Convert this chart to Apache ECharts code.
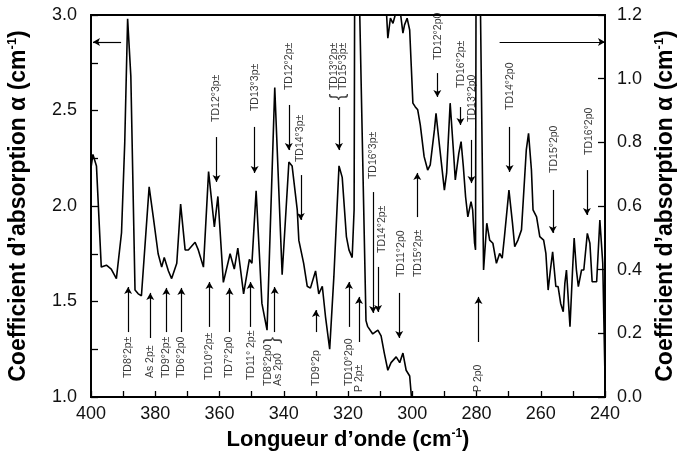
<!DOCTYPE html>
<html><head><meta charset="utf-8">
<script src="https://cdn.jsdelivr.net/npm/echarts@6/dist/echarts.min.js"></script>
<style>html,body{margin:0;padding:0;background:#fff}#c{width:680px;height:468px}</style>
</head><body><div id="c"></div>
<script>
// Left-axis spectrum (400 -> 300 cm-1), absorption on left scale
const leftW = [400.0,399.4,398.3,396.8,395.2,393.7,392.1,390.5,389.5,388.6,387.6,386.3,385.3,384.3,381.9,380.6,379.1,378.0,377.2,375.9,374.9,373.3,372.1,370.7,369.7,367.6,366.6,365.0,363.4,361.6,360.5,358.8,356.7,355.4,354.3,352.5,350.7,349.9,348.6,346.8,345.2,342.8,340.5,338.4,337.4,335.8,335.3,334.8,333.8,332.7,331.7,330.1,329.1,328.0,327.0,325.7,324.4,322.8,321.8,320.5,319.7,318.7,318.1,317.9,316.7,314.4,313.9,312.3,310.7,309.7,308.7,307.6,306.6,305.0,303.9,302.9,301.9,300.8,300.0];
const leftV = [2.20,2.27,2.21,1.68,1.69,1.67,1.62,1.86,2.33,2.98,2.68,1.56,1.54,1.53,2.10,1.94,1.75,1.68,1.73,1.66,1.62,1.70,2.01,1.77,1.77,1.81,1.77,1.68,2.18,1.89,2.05,1.60,1.75,1.67,1.78,1.54,1.72,1.70,2.08,1.49,1.35,2.62,1.64,2.23,2.21,1.98,1.82,1.83,1.70,1.58,1.57,1.66,1.54,1.58,1.42,1.25,1.63,2.21,2.15,1.84,1.77,1.73,1.98,3.3,3.3,1.40,1.37,1.33,1.35,1.32,1.23,1.14,1.18,1.21,1.18,1.23,1.14,1.11,0.95];
// Right-axis spectrum (308 -> 240 cm-1)
const rightW = [308.5,307.6,306.8,306.0,305.3,304.5,303.6,302.9,302.4,301.6,300.8,300.3,299.8,299.1,298.3,297.5,296.3,295.2,294.4,293.1,292.6,291.6,290.0,289.3,288.2,287.2,286.6,285.5,284.8,284.1,283.4,282.7,281.7,281.2,280.6,280.3,280.1,279.1,277.8,276.8,275.9,274.9,273.8,272.8,272.0,271.3,269.9,268.8,268.1,267.1,266.0,265.0,264.5,263.8,262.9,262.4,261.3,260.3,259.1,258.4,257.7,257.0,256.3,255.3,254.6,253.8,253.0,252.5,252.0,250.9,250.1,249.6,248.9,248.3,247.3,246.6,245.5,244.7,244.0,242.6,241.6,240.7,240.0];
const rightV = [1.30,1.127,1.19,1.174,1.20,1.205,1.20,1.143,1.169,1.19,1.153,1.038,0.923,0.912,0.902,0.855,0.755,0.713,0.729,0.839,0.891,0.797,0.650,0.703,0.923,0.776,0.682,0.766,0.802,0.724,0.629,0.566,0.614,0.588,0.483,0.462,1.5,1.5,0.399,0.546,0.493,0.483,0.420,0.451,0.436,0.504,0.650,0.546,0.472,0.493,0.525,0.692,0.776,0.828,0.713,0.588,0.566,0.504,0.493,0.451,0.336,0.399,0.456,0.347,0.347,0.294,0.268,0.357,0.399,0.221,0.399,0.499,0.399,0.347,0.399,0.399,0.514,0.483,0.362,0.362,0.556,0.420,0.06];

// Line assignment labels (text starts at the given point, reads upward), in left-axis units
const labelText = ['TD12°3p±','TD13°3p±','TD12°2p±','TD14°3p±','TD13°2p±','TD15°3p±','TD16°3p±','TD14°2p±','TD11°2p0','TD15°2p±','TD12°2p0','TD16°2p±','TD13°2p0','TD14°2p0','TD15°2p0','TD16°2p0',
  'TD8°2p±','As 2p±','TD9°2p±','TD6°2p0','TD10°2p±','TD7°2p0','TD11° 2p±','TD8°2p0','As 2p0','TD9°2p','TD10°2p0','P 2p±','P 2p0'];
const labelW = [360.94,349.06,338.44,335.0,324.38,321.56,312.19,309.38,303.44,298.13,291.88,284.69,281.25,269.69,255.94,245.0,
  388.44,381.56,376.56,371.88,363.13,356.88,350.31,345.0,341.88,330.0,319.69,316.56,279.38];
const labelV = [2.44,2.497,2.607,2.23,2.607,2.607,2.141,1.754,1.628,1.628,2.764,2.618,2.44,2.503,2.173,2.267,
  1.099,1.099,1.099,1.099,1.089,1.099,1.089,1.058,1.058,1.058,1.058,1.026,1.026];
// Grouping braces
const braceText = ['{','}'];
const braceW = [322.97,343.44];
const braceV = [2.571,1.298];

// Pointer arrows: x, tail value, head value (left-axis units)
const arrowW = [360.94,349.06,338.44,334.69,322.81,312.19,310.63,304.06,292.19,285.0,281.56,269.69,256.25,245.63,
  298.44,388.44,381.56,376.56,371.88,363.13,356.88,350.31,342.81,330.0,319.69,316.56,279.38];
const arrowFrom = [2.361,2.414,2.529,2.162,2.518,2.073,1.681,1.545,2.696,2.518,2.346,2.414,2.084,2.188,
  1.942,1.340,1.309,1.340,1.340,1.367,1.340,1.367,1.340,1.340,1.367,1.288,1.288];
const arrowTo = [2.126,2.173,2.293,1.927,2.293,1.440,1.445,1.309,2.571,2.424,2.120,2.178,1.859,1.953,
  2.173,1.576,1.545,1.571,1.571,1.602,1.571,1.602,1.576,1.455,1.602,1.524,1.524];
// Scale indicator arrows (which axis applies)
const scaleArrowFrom = [390.63, 272.81];
const scaleArrowTo = [399.38, 240.0];
const scaleArrowV = 2.859;

const FONT = 'Liberation Sans, Arial, sans-serif';
const chart = echarts.init(document.getElementById('c'), null, {renderer: 'canvas'});

const arrowLines = arrowW.map((w, i) => [{coord: [w, arrowFrom[i]]}, {coord: [w, arrowTo[i]]}]);
scaleArrowFrom.forEach((w, i) => arrowLines.push([{coord: [w, scaleArrowV]}, {coord: [scaleArrowTo[i], scaleArrowV]}]));

const xTitle = {
  a: {fontSize: 22, fontWeight: 'bold', fontFamily: FONT, color: '#000'},
  s: {fontSize: 12, fontWeight: 'bold', fontFamily: FONT, color: '#000', verticalAlign: 'top', padding: [0, 0, 12, 0]}
};
const yTitle = {
  a: {fontSize: 23, fontWeight: 'bold', fontFamily: FONT, color: '#000'},
  s: {fontSize: 13, fontWeight: 'bold', fontFamily: FONT, color: '#000', verticalAlign: 'top', padding: [0, 0, 12, 0]}
};

chart.setOption({
  animation: false,
  backgroundColor: '#fff',
  grid: {left: 91, right: 75, top: 15, bottom: 71, containLabel: false, outerBoundsMode: 'none',
    show: true, borderColor: '#000', borderWidth: 1.8, backgroundColor: 'transparent'},
  xAxis: {
    type: 'value', inverse: true, min: 240, max: 400, interval: 20,
    axisLine: {lineStyle: {color: '#000', width: 1.8}},
    axisTick: {inside: true, length: 6, lineStyle: {color: '#000', width: 1.3}},
    minorTick: {show: true, splitNumber: 2, length: 6, lineStyle: {color: '#000', width: 1.3}},
    splitLine: {show: false},
    axisLabel: {fontSize: 18, color: '#111', fontFamily: FONT, margin: 8},
    name: '{a|Longueur d\u2019onde (cm}{s|-1}{a|)}',
    nameLocation: 'middle', nameGap: 30,
    nameTextStyle: {rich: xTitle}
  },
  yAxis: [{
    type: 'value', min: 1, max: 3, interval: 0.5,
    axisLine: {lineStyle: {color: '#000', width: 1.8}},
    axisTick: {inside: true, length: 7, lineStyle: {color: '#000', width: 1.3}},
    minorTick: {show: true, splitNumber: 2, length: 7, lineStyle: {color: '#000', width: 1.3}},
    splitLine: {show: false},
    axisLabel: {fontSize: 18, color: '#111', fontFamily: FONT, margin: 14, formatter: v => v.toFixed(1)},
    name: '{a|Coefficient d\u2019absorption \u03b1 (cm}{s|-1}{a|)}',
    nameLocation: 'middle', nameGap: 60,
    nameTextStyle: {rich: yTitle}
  }, {
    type: 'value', min: 0, max: 1.2, interval: 0.2, position: 'right',
    axisLine: {show: true, lineStyle: {color: '#000', width: 1.8}},
    axisTick: {inside: true, length: 7, lineStyle: {color: '#000', width: 1.3}},
    splitLine: {show: false},
    axisLabel: {fontSize: 18, color: '#111', fontFamily: FONT, margin: 12, formatter: v => v.toFixed(1)},
    name: '{a|Coefficient d\u2019absorption \u03b1 (cm}{s|-1}{a|)}',
    nameLocation: 'middle', nameGap: 46,
    nameTextStyle: {rich: yTitle}
  }],
  series: [{
    type: 'line', yAxisIndex: 0, showSymbol: false, clip: true, silent: true,
    lineStyle: {color: '#000', width: 1.6}, itemStyle: {color: '#000'},
    data: leftW.map((w, i) => [w, leftV[i]])
  }, {
    type: 'line', yAxisIndex: 1, showSymbol: false, clip: true, silent: true,
    lineStyle: {color: '#000', width: 1.6}, itemStyle: {color: '#000'},
    data: rightW.map((w, i) => [w, rightV[i]])
  }, {
    type: 'scatter', yAxisIndex: 0, symbolSize: 0, silent: true,
    data: labelW.map((w, i) => ({value: [w, labelV[i]], name: labelText[i]})),
    label: {show: true, formatter: p => p.name, rotate: 90, position: 'inside', align: 'left', verticalAlign: 'middle',
      fontSize: 10.5, color: '#000', fontFamily: FONT},
    markLine: {
      silent: true, animation: false, symbol: ['none', 'arrow'], symbolSize: [6, 7],
      label: {show: false}, lineStyle: {color: '#000', width: 1.2, type: 'solid'},
      emphasis: {disabled: true},
      data: arrowLines
    }
  }, {
    type: 'scatter', yAxisIndex: 0, symbolSize: 0, silent: true,
    data: braceW.map((w, i) => ({value: [w, braceV[i]], name: braceText[i]})),
    label: {show: true, formatter: p => p.name, rotate: 90, position: 'inside', align: 'center', verticalAlign: 'middle',
      fontSize: 20, color: '#111', fontFamily: FONT}
  }]
});
</script></body></html>
